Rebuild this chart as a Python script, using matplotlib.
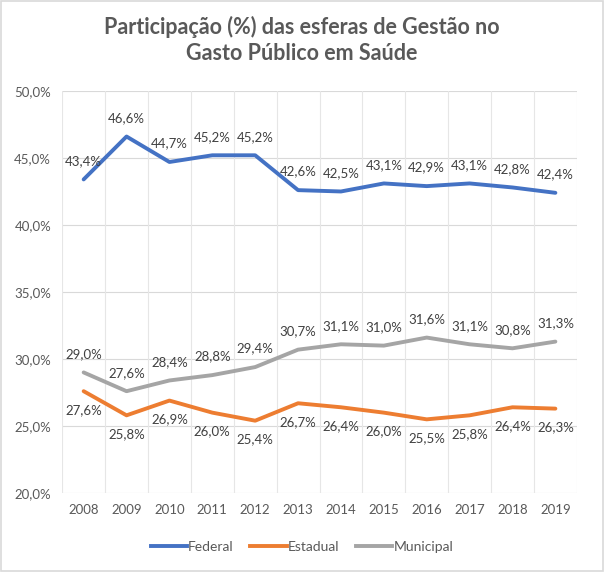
import numpy as np
import matplotlib.pyplot as plt
from matplotlib.lines import Line2D
from matplotlib.patches import Rectangle

plt.rcParams['font.family'] = ['Lato', 'DejaVu Sans']

# Data
years = ['2008', '2009', '2010', '2011', '2012', '2013', '2014', '2015', '2016', '2017', '2018', '2019']
federal = [43.4, 46.6, 44.7, 45.2, 45.2, 42.6, 42.5, 43.1, 42.9, 43.1, 42.8, 42.4]
estadual = [27.6, 25.8, 26.9, 26.0, 25.4, 26.7, 26.4, 26.0, 25.5, 25.8, 26.4, 26.3]
municipal = [29.0, 27.6, 28.4, 28.8, 29.4, 30.7, 31.1, 31.0, 31.6, 31.1, 30.8, 31.3]
y_ticks = [20, 25, 30, 35, 40, 45, 50]

def pct(v):
    return f"{v:.1f}%".replace('.', ',')

fig = plt.figure(figsize=(6.04, 5.72), dpi=100)
ax = fig.add_axes([0.103, 0.138, 0.852, 0.703])

x = np.arange(len(years))
series = [
    ('Federal', federal, '#4472C4', 'above'),
    ('Estadual', estadual, '#ED7D31', 'below'),
    ('Municipal', municipal, '#A5A5A5', 'above'),
]

# gridlines
for yt in y_ticks:
    ax.axhline(yt, color='#D9D9D9', lw=0.8, zorder=0)
for b in np.arange(-0.5, len(years), 1.0):
    ax.axvline(b, color='#E6E6E6', lw=0.8, zorder=0)

for name, vals, col, pos in series:
    ax.plot(x, vals, color=col, lw=2.8, solid_capstyle='round', zorder=3)
    for xi, v in zip(x, vals):
        if pos == 'above':
            ax.annotate(pct(v), (xi, v), xytext=(0, 9), textcoords='offset points',
                        ha='center', va='bottom', fontsize=9.5, color='#404040')
        else:
            ax.annotate(pct(v), (xi, v), xytext=(0, -9), textcoords='offset points',
                        ha='center', va='top', fontsize=9.5, color='#404040')

ax.set_xlim(-0.5, len(years) - 0.5)
ax.set_ylim(20, 50)
ax.set_yticks(y_ticks)
ax.set_yticklabels([pct(t) for t in y_ticks])
ax.set_xticks(x)
ax.set_xticklabels(years)
ax.tick_params(length=0, labelsize=9.5, colors='#595959', pad=8)
for s in ax.spines.values():
    s.set_visible(False)

fig.text(0.5, 0.972, 'Participação (%) das esferas de Gestão no\nGasto Público em Saúde',
         ha='center', va='top', fontsize=15.5, fontweight='bold', color='#595959',
         linespacing=1.3)

handles = [Line2D([0], [0], color=c, lw=2.8) for _, _, c, _ in series]
fig.legend(handles, [n for n, _, _, _ in series], loc='center', bbox_to_anchor=(0.5, 0.044),
           ncol=3, frameon=False, fontsize=10, labelcolor='#595959',
           handlelength=2.6, handletextpad=0.1, columnspacing=1.2)

fig.patches.append(Rectangle((0.002, 0.002), 0.996, 0.996, transform=fig.transFigure,
                             fill=False, edgecolor='#D9D9D9', lw=1.2))

fig.savefig('out.png', dpi=100)
